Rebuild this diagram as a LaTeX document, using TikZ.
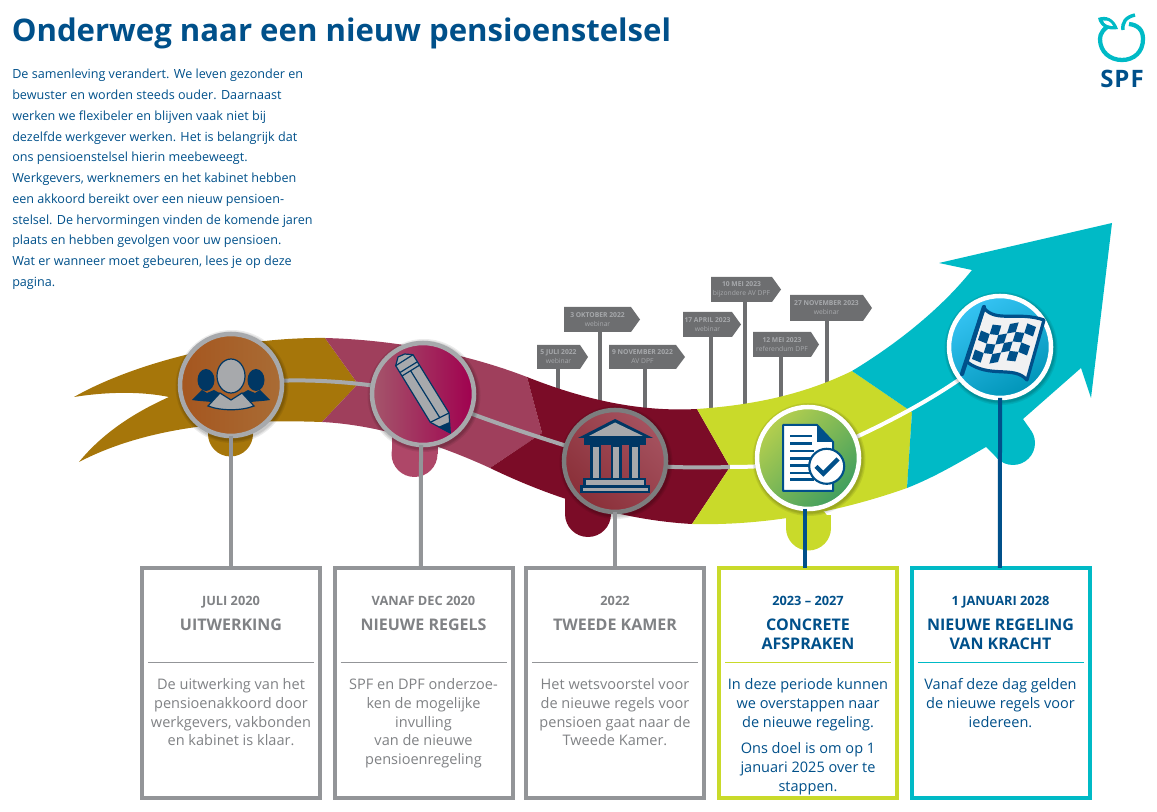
\documentclass[tikz,border=0pt]{standalone}
\usepackage{fontspec}
\setmainfont{Open Sans}
\usetikzlibrary{calc}
\definecolor{navy}{HTML}{00508A}
\definecolor{ink}{HTML}{003764}
\definecolor{igrey}{HTML}{A7A9AC}
\definecolor{boxgrey}{HTML}{939598}
\definecolor{txtgrey}{HTML}{808285}
\definecolor{sign}{HTML}{6D6E70}
\definecolor{cgold}{HTML}{A6760A}
\definecolor{cpink}{HTML}{9F3F5C}
\definecolor{cpinkb}{HTML}{AE4768}
\definecolor{cred}{HTML}{7B0C27}
\definecolor{clime}{HTML}{C9DA2A}
\definecolor{cteal}{HTML}{00BAC6}
\definecolor{goldA}{HTML}{A5561F}
\definecolor{goldB}{HTML}{A96C35}
\definecolor{pinkA}{HTML}{A4566B}
\definecolor{pinkB}{HTML}{A0004F}
\definecolor{redA}{HTML}{A5525F}
\definecolor{redB}{HTML}{8A2F38}
\definecolor{limeA}{HTML}{B5CF4E}
\definecolor{limeB}{HTML}{3F9E5F}
\definecolor{tealA}{HTML}{35C3F3}
\definecolor{tealB}{HTML}{0095B8}
\definecolor{flagw}{HTML}{F1F1F2}
\pgfdeclarelayer{ribbon}
\pgfsetlayers{ribbon,main}
\tikzset{
  x=0.75pt,y=-0.75pt,
  stage/.style={circle,inner sep=0pt,minimum size=76.5pt,line width=3.4pt,outer sep=0pt},
  flow/.style={line width=3pt},
  tlbox/.style={draw,fill=white,line width=3pt,minimum width=133.5pt,minimum height=172.5pt,inner sep=0pt,outer sep=0pt},
  pole/.style={sign,line width=3pt},
  tie/.style={line width=3pt},
  signtext/.style={text=igrey,align=center,inner sep=0pt,font=\fontsize{5.05pt}{6.8pt}\selectfont},
  iconline/.style={draw=ink,line width=0.9pt,fill=igrey},
}
% name, l, t, shoulder, tip, b, pole x, pole end y, text
\newcommand{\signpost}[9]{%
  \fill[sign] (#2,#3) -- (#4,#3) -- (#5,{(#3+#6)/2}) -- (#4,#6) -- (#2,#6) -- cycle;
  \node[signtext] (#1) at ({(#2+#4)/2},{(#3+#6)/2}) {#9};
  \coordinate (#1top) at (#7,#6);
  \coordinate (#1foot) at (#7,#8);
  \draw[pole] (#1top) -- (#1foot);
}
% name, centre x, frame colour, text colour, date, heading, body
\newcommand{\infobox}[7]{%
  \node[tlbox,draw=#3] (#1) at (#2,683) {};
  \node[anchor=base,inner sep=0pt,text=#4,font=\fontsize{9.6pt}{11pt}\selectfont\bfseries] (#1d) at (#2,605) {#5};
  \node[anchor=north,inner sep=0pt,align=center,text=#4,font=\fontsize{12pt}{14.2pt}\selectfont\bfseries] (#1h) at (#2,616.6) {\strut #6};
  \draw[#3,line width=0.75pt] (#2-83,662.5) -- (#2+83,662.5);
  \node[anchor=north,inner sep=0pt,align=center,text=#4,font=\fontsize{10.9pt}{14pt}\selectfont] (#1b) at (#2,676.6) {\strut #7};
}
\newcommand{\flagp}[2]{({-16+52*(#1)-12*(#2)},{-26+6*(#1)+38*(#2)+3*sin(360*(#1))})}
\begin{document}
\begin{tikzpicture}
\useasboundingbox (0,0) rectangle (1157,812);

% title and intro
\node[anchor=base west,inner sep=0pt,text=navy,font=\fontsize{23.35pt}{28pt}\selectfont\bfseries] (title) at (11.5,42) {Onderweg naar een nieuw pensioenstelsel};
\node[anchor=north west,inner sep=0pt,align=left,text=navy,font=\fontsize{9.45pt}{15.55pt}\selectfont] (intro) at (12,64.2) {\strut De samenleving verandert. We leven gezonder en\\
bewuster en worden steeds ouder. Daarnaast\\
werken we flexibeler en blijven vaak niet bij\\
dezelfde werkgever werken. Het is belangrijk dat\\
ons pensioenstelsel hierin meebeweegt.\\
Werkgevers, werknemers en het kabinet hebben\\
een akkoord bereikt over een nieuw pensioen-\\
stelsel. De hervormingen vinden de komende jaren\\
plaats en hebben gevolgen voor uw pensioen.\\
Wat er wanneer moet gebeuren, lees je op deze\\
pagina.};

% logo
\draw[cteal,line width=3.2pt] (1113,24) .. controls (1103,28) and (1100,34) .. (1100,39) .. controls (1100,52) and (1110,60) .. (1122,60) .. controls (1134,60) and (1143,52) .. (1143,39) .. controls (1143,30) and (1138,25) .. (1129,24);
\fill[cteal] (1098,18) .. controls (1106,15) and (1114,18) .. (1118,29) .. controls (1108,31) and (1100,27) .. (1098,18) -- cycle;
\fill[white] (1103,20.5) .. controls (1108,20) and (1111,22) .. (1113,26) .. controls (1108,26) and (1104,24) .. (1103,20.5) -- cycle;
\draw[cteal,line width=2.6pt] (1123,30) .. controls (1122,22) and (1126,17) .. (1135,15);
\node[anchor=base,inner sep=0pt,text=navy,font=\fontsize{18pt}{20pt}\selectfont\bfseries\addfontfeatures{LetterSpace=4}] (logo) at (1122,88) {SPF};

% stage discs
\node[stage,draw=igrey,left color=goldA,right color=goldB] (c1) at (231,385) {};
\node[stage,draw=igrey,left color=pinkA,right color=pinkB] (c2) at (423,394) {};
\node[stage,draw=sign!90,top color=redA,bottom color=redB,shading angle=-45] (c3) at (615,461) {};
\node[stage,draw=white,top color=limeA,bottom color=limeB,shading angle=45] (c4) at (808,458) {};
\node[stage,draw=white,top color=tealA,bottom color=tealB,shading angle=30] (c5) at (1000,347) {};
\coordinate (limeGate) at (730,467);

\begin{pgfonlayer}{ribbon}
  % signposts
  \signpost{s1}{537}{345}{580}{588}{369}{558}{390}{\textbf{5 JULI 2022}\\webinar}
  \signpost{s2}{564}{307}{631}{640}{332}{600}{402}{\textbf{3 OKTOBER 2022}\\webinar}
  \signpost{s3}{609}{345}{676}{685}{369}{645}{410}{\textbf{9 NOVEMBER 2022}\\AV DPF}
  \signpost{s4}{683}{312}{732}{741}{337}{711}{412}{\textbf{17 APRIL 2023}\\webinar}
  \signpost{s5}{711}{277}{772}{781}{302}{745}{409}{\textbf{10 MEI 2023}\\bijzondere AV DPF}
  \signpost{s6}{753}{332}{811}{819}{357}{781}{400}{\textbf{12 MEI 2023}\\referendum DPF}
  \signpost{s7}{790}{295}{863}{872}{321}{827}{385}{\textbf{27 NOVEMBER 2023}\\webinar}
  % bumps, each with a neck up into the ribbon
  \fill[cgold] (230.5,434) circle (22.5);
  \fill[cgold] (208,420) rectangle (253,434);
  \fill[cpinkb] (414.5,454) circle (23);
  \fill[cpinkb] (391.5,430) rectangle (437.5,454);
  \fill[cred] (588,514) circle (23);
  \fill[cred] (565,490) rectangle (611,514);
  \fill[clime] (808.5,528) circle (22.5);
  \fill[clime] (786,515) rectangle (831,528);
  \fill[cteal] (1013,443) circle (22);
  % ribbon
  \fill[cgold] (74,397) .. controls (130,365) and (230,337) .. (325,338) -- (358,384) -- (322,422)
     .. controls (240,419) and (150,425) .. (79,462)
     .. controls (105,430) and (140,410) .. (169,397)
     .. controls (140,391) and (105,392) .. (74,397) -- cycle;
  \fill[cpink] (325,338) .. controls (400,340) and (470,355) .. (527,377) -- (542,433) -- (490,468)
     .. controls (440,445) and (380,425) .. (322,422) -- (358,384) -- cycle;
  \fill[cred] (527,377) .. controls (585,400) and (640,412) .. (697,409) -- (730,467) -- (692,524)
     .. controls (620,520) and (550,497) .. (490,468) -- (542,433) -- cycle;
  \fill[clime] (697,409) .. controls (755,405) and (805,394) .. (852,371) -- (912,412) -- (907,488)
     .. controls (845,510) and (770,526) .. (692,524) -- (730,467) -- cycle;
  \fill[cteal] (852,371) .. controls (895,345) and (940,310) .. (972,270) -- (939,263) -- (1112,223)
     -- (1091,398) -- (1081,368) -- (1023,419) -- (1030,429) -- (1000,440) -- (998,459) -- (986,447)
     .. controls (960,462) and (935,477) .. (907,488) -- (912,412) -- cycle;
  % thin line through the ribbon
  \draw[flow,igrey] (c1.center) .. controls (300,375) and (370,383) .. (c2.center);
  \draw[flow,igrey] (c2.center) .. controls (470,415) and (530,435) .. (c3.center);
  \draw[flow,igrey] (c3.center) .. controls (650,468) and (700,468) .. (limeGate);
  \draw[flow,white] (limeGate) .. controls (755,467) and (780,466) .. (c4.center);
  \draw[flow,white] (c4.center) .. controls (860,437) and (950,395) .. (c5.center);
  % soft disc shadows
  \foreach \c in {c1,c2,c3,c4,c5}{
    \foreach \r in {56.5,55.2,54.2}{
      \fill[black,opacity=.08] ($(\c)+(1,1.5)$) circle (\r);
    }
  }
\end{pgfonlayer}

% info boxes
\infobox{b1}{231}{boxgrey}{txtgrey}{JULI 2020}{UITWERKING}{De uitwerking van het\\pensioenakkoord door\\werkgevers, vakbonden\\en kabinet is klaar.}
\infobox{b2}{423.5}{boxgrey}{txtgrey}{VANAF DEC 2020}{NIEUWE REGELS}{SPF en DPF onderzoe-\\ken de mogelijke\\invulling\\van de nieuwe\\pensioenregeling}
\infobox{b3}{615}{boxgrey}{txtgrey}{2022}{TWEEDE KAMER}{Het wetsvoorstel voor\\de nieuwe regels voor\\pensioen gaat naar de\\Tweede Kamer.}
\infobox{b4}{808}{clime}{navy}{2023 -- 2027}{CONCRETE\\AFSPRAKEN}{In deze periode kunnen\\we overstappen naar\\de nieuwe regeling.\\[6pt]Ons doel is om op 1\\januari 2025 over te\\stappen.}
\infobox{b5}{1000.5}{cteal}{navy}{1 JANUARI 2028}{NIEUWE REGELING\\VAN KRACHT}{Vanaf deze dag gelden\\de nieuwe regels voor\\iedereen.}

% ties from disc to box
\draw[tie,boxgrey] (c1.south) -- (b1.north);
\draw[tie,boxgrey] ([xshift=-1.5pt]c2.south) -- ([xshift=-1.9pt]b2.north);
\draw[tie,boxgrey] (c3.south) -- (b3.north);
\draw[tie,navy] ([xshift=-2.2pt]c4.south) -- ([xshift=-2.2pt]b4.north);
\draw[tie,navy] (c5.south) -- ([xshift=-.4pt]b5.north);

% people icon
\begin{scope}[shift={(c1.center)}]
  \fill[ink] (-25,-5) ellipse (8.5 and 11);
  \fill[ink] (25,-5) ellipse (8.5 and 11);
  \fill[ink] (-39,15) -- (-29,5) -- (-24,8) -- (-17,5) -- (-8,10) -- (-20,17) .. controls (-28,16) and (-34,16) .. (-39,15) -- cycle;
  \fill[ink] (39,15) -- (29,5) -- (24,8) -- (17,5) -- (8,10) -- (20,17) .. controls (28,16) and (34,16) .. (39,15) -- cycle;
  \draw[iconline] (-23,21) -- (-11,8) -- (0,15) -- (11,8) -- (23,21) .. controls (10,26) and (-10,26) .. (-23,21) -- cycle;
  \draw[iconline] (0,-9) ellipse (14 and 17);
\end{scope}

% pencil icon
\begin{scope}[shift={(c2.center)}]
  \draw[iconline,line join=round] (-27.3,-28.3) -- (-25,-37) -- (-18.3,-40) -- (-10,-39.3) -- (26,19) -- (27.3,39) -- (7.3,28.3) -- cycle;
  \fill[ink] (27.5,39.5) -- (15,33) -- (26.5,28) -- cycle;
  \draw[ink,line width=.9pt] (-27.3,-28.3) -- (-10,-39.3);
  \draw[ink,line width=.9pt] (-23,-21.5) -- (-6,-32);
  \draw[ink,line width=.9pt] (-21,-18) -- (-4,-28.5);
  \draw[ink,line width=.9pt] (-12.5,-23.5) -- (17,24);
  \draw[ink,line width=.9pt] (7.3,28.3) -- (26,19);
\end{scope}

% building icon
\begin{scope}[shift={(c3.center)}]
  \fill[ink] (0,-42) -- (-37,-23) -- (38,-23) -- cycle;
  \fill[igrey] (0,-38.5) -- (-26,-25) -- (28,-25) -- cycle;
  \fill[ink] (-31,-23) rectangle (31,-16);
  \foreach \cx in {-19.3,1,19.7}{
    \fill[ink] ({\cx-5.5},-16) rectangle ({\cx+5.5},18);
    \fill[igrey] ({\cx-3},-14) rectangle ({\cx+3},17.5);
  }
  \fill[ink] (-32,17) rectangle (31,24);
  \fill[igrey] (-29,19.5) rectangle (29,24);
  \fill[ink] (-35,24) rectangle (35,32);
  \fill[igrey] (-32,27) rectangle (33,30);
\end{scope}

% document icon
\begin{scope}[shift={(c4.center)}]
  \draw[navy,fill=white,line width=1.5pt,line join=round] (-25,-33) -- (9,-33) -- (25,-16) -- (25,33) -- (-25,33) -- cycle;
  \fill[navy] (9,-33) -- (9,-16) -- (25,-16) -- cycle;
  \foreach \ly/\lx in {-22/3.7,-14.3/3.7,-7/6,0.7/6,7.3/3,15/3,21.7/6}{
    \draw[navy,line width=1.9pt] (-18,\ly) -- (\lx,\ly);
  }
  \draw[navy,fill=white,line width=1.6pt] (18.7,8.3) circle (17.5);
  \draw[navy,line width=3.2pt] (8,8.3) -- (15.3,15.7) -- (30,1);
\end{scope}

% flag icon
\begin{scope}[shift={(c5.center)}]
  \draw[navy,fill=flagw,line width=2.4pt,line join=round] (-16,-39) .. controls (-4,-24) and (18,-36) .. (44,-27) -- (27,33) .. controls (14,18) and (-10,32) .. (-33,15) -- cycle;
  \draw[navy,line width=3.2pt,line cap=round] (-38,27) -- (-16,-40);
  \foreach \i in {0,...,5}{
    \foreach \j in {0,...,3}{
      \pgfmathtruncatemacro{\prty}{mod(\i+\j,2)}
      \ifnum\prty=1
        \pgfmathsetmacro{\ua}{\i/6}
        \pgfmathsetmacro{\ub}{(\i+1)/6}
        \pgfmathsetmacro{\va}{\j/4}
        \pgfmathsetmacro{\vb}{(\j+1)/4}
        \fill[navy] \flagp{\ua}{\va} -- \flagp{\ub}{\va} -- \flagp{\ub}{\vb} -- \flagp{\ua}{\vb} -- cycle;
      \fi
    }
  }
\end{scope}
\end{tikzpicture}
\end{document}
